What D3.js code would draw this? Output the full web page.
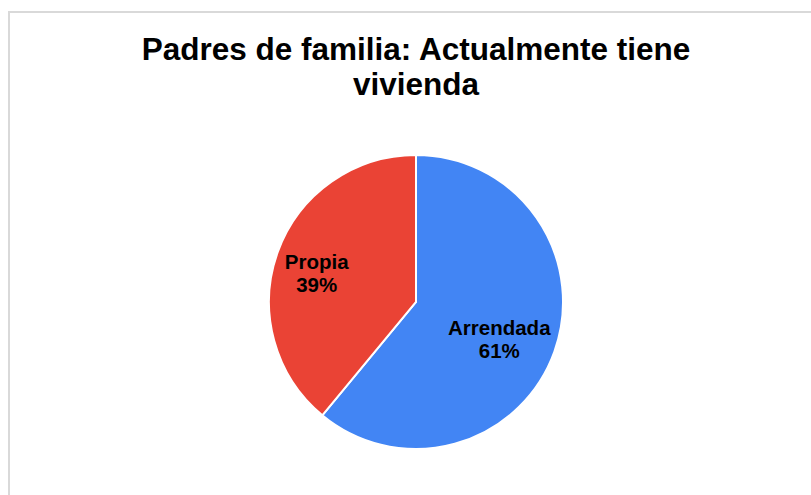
<!DOCTYPE html>
<html>
<head>
<meta charset="utf-8">
<script src="https://cdn.jsdelivr.net/npm/d3@7"></script>
<style>
  body { margin: 0; background: #fff; }
  svg { display: block; font-family: "Liberation Sans", Arial, sans-serif; }
</style>
</head>
<body>
<svg id="chart" width="811" height="495"></svg>
<script>
// Chart data
const titleLines = ["Padres de familia: Actualmente tiene", "vivienda"];
const categories = ["Arrendada", "Propia"];
const values = [61, 39];
const colors = ["#4285f4", "#ea4335"];

const width = 811, height = 495;
const cx = 416, cy = 302, radius = 147;

const svg = d3.select("#chart");

// light frame around the chart area
svg.append("rect")
  .attr("x", 9)
  .attr("y", 12)
  .attr("width", 820)
  .attr("height", 500)
  .attr("fill", "none")
  .attr("stroke", "#d9d9d9")
  .attr("stroke-width", 2);

// Title
svg.append("text")
  .attr("x", cx)
  .attr("text-anchor", "middle")
  .attr("font-size", "31.5px")
  .attr("font-weight", "700")
  .attr("fill", "#000")
  .selectAll("tspan")
  .data(titleLines)
  .enter().append("tspan")
  .attr("x", cx)
  .attr("y", (d, i) => 60 + i * 35)
  .text(d => d);

const pie = d3.pie().sort(null).value(d => d);
const arcs = pie(values);
const arc = d3.arc().innerRadius(0).outerRadius(radius);
const labelArc = d3.arc().innerRadius(radius * 0.66).outerRadius(radius * 0.66);

const g = svg.append("g").attr("transform", `translate(${cx},${cy})`);

g.selectAll("path")
  .data(arcs)
  .enter().append("path")
  .attr("d", arc)
  .attr("fill", (d, i) => colors[i])
  .attr("stroke", "#fff")
  .attr("stroke-width", 2);

// Slice labels
const total = d3.sum(values);
const labels = g.selectAll("text.label")
  .data(arcs)
  .enter().append("text")
  .attr("class", "label")
  .attr("text-anchor", "middle")
  .attr("font-size", "20.5px")
  .attr("font-weight", "700")
  .attr("fill", "#000");

labels.each(function(d, i) {
  const [x, y] = labelArc.centroid(d);
  const t = d3.select(this);
  t.append("tspan").attr("x", x - 8).attr("y", y + 0).text(categories[i]);
  t.append("tspan").attr("x", x - 8).attr("y", y + 23)
    .text(Math.round(d.value / total * 100) + "%");
});
</script>
</body>
</html>
